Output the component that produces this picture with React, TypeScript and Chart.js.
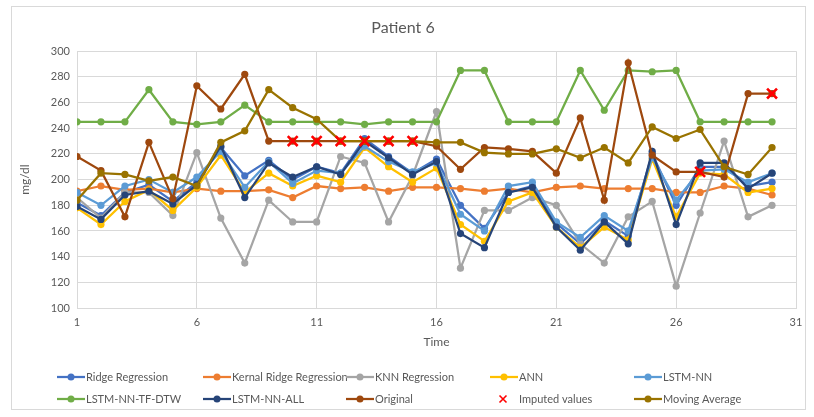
import React, { useEffect, useRef } from "react";
import { Chart, registerables } from "chart.js";

Chart.register(...registerables);

// Time steps (x axis) and the ticks shown along it
const TIME = [1, 2, 3, 4, 5, 6, 7, 8, 9, 10, 11, 12, 13, 14, 15, 16, 17, 18, 19, 20, 21, 22, 23, 24, 25, 26, 27, 28, 29, 30];
const X_TICKS = [1, 6, 11, 16, 21, 26, 31];

// Glucose estimates (mg/dl) per method
const RIDGE = [182, 172, 190, 196, 183, 198, 225, 203, 215, 200, 210, 205, 232, 218, 205, 216, 180, 162, 190, 195, 166, 150, 168, 156, 220, 180, 210, 210, 195, 198];
const KERNAL_RIDGE = [191, 195, 192, 193, 190, 193, 191, 191, 192, 186, 195, 193, 194, 191, 194, 194, 193, 191, 193, 190, 194, 195, 193, 193, 193, 190, 190, 195, 193, 188];
const KNN = [186, 170, 190, 190, 172, 221, 170, 135, 184, 167, 167, 218, 213, 167, 203, 253, 131, 176, 176, 186, 180, 150, 135, 171, 183, 117, 174, 230, 171, 180];
const ANN = [178, 165, 183, 192, 176, 194, 219, 190, 205, 195, 203, 198, 225, 210, 198, 209, 165, 152, 183, 190, 163, 147, 163, 153, 216, 171, 205, 204, 190, 193];
const LSTM_NN = [190, 180, 195, 200, 190, 202, 222, 194, 214, 197, 207, 205, 226, 214, 206, 213, 173, 160, 195, 198, 167, 155, 172, 160, 217, 184, 207, 208, 198, 205];
const LSTM_TF_DTW = [245, 245, 245, 270, 245, 243, 245, 258, 245, 245, 245, 245, 243, 245, 245, 245, 285, 285, 245, 245, 245, 285, 254, 285, 284, 285, 245, 245, 245, 245];
const LSTM_ALL = [179, 169, 188, 191, 181, 196, 226, 186, 213, 202, 210, 204, 230, 217, 204, 214, 158, 147, 190, 194, 163, 145, 167, 150, 222, 165, 213, 213, 193, 205];
const ORIGINAL = [218, 207, 171, 229, 185, 273, 255, 282, 230, 230, 230, 230, 230, 230, 230, 226, 208, 225, 224, 222, 205, 248, 184, 291, 219, 206, 206, 202, 267, 267];
const MOVING_AVG = [184, 205, 204, 199, 202, 195, 229, 238, 270, 256, 247, 230, 230, 230, 230, 229, 229, 221, 220, 220, 224, 217, 225, 213, 241, 232, 239, 210, 204, 225];

// Readings that were filled in by imputation
const IMPUTED_TIME = [10, 11, 12, 13, 14, 15, 27, 30];
const IMPUTED = [230, 230, 230, 230, 230, 230, 206, 267];

const SERIES_NAMES = [
  "Ridge Regression",
  "Kernal Ridge Regression",
  "KNN Regression",
  "ANN",
  "LSTM-NN",
  "LSTM-NN-TF-DTW",
  "LSTM-NN-ALL",
  "Original",
  "Imputed values",
  "Moving Average",
];

const FONT = "Lato, 'Open Sans', sans-serif";
const TEXT = "#595959";
const GRID = "#D9D9D9";

const toPoints = (xs: number[], ys: number[]) => ys.map((y, i) => ({ x: xs[i], y }));

const lineSet = (label: string, values: number[], color: string) => ({
  label,
  data: toPoints(TIME, values),
  borderColor: color,
  backgroundColor: color,
  borderWidth: 2.25,
  pointRadius: 3.6,
  pointHoverRadius: 3.6,
  pointBorderWidth: 0,
  pointBackgroundColor: color,
  tension: 0,
});

// White page, the thin frame around the chart, and the two-row legend under it
const framePlugin = {
  id: "frameAndLegend",
  beforeDraw(chart: any) {
    const { ctx, width, height } = chart;
    ctx.save();
    ctx.fillStyle = "#FFFFFF";
    ctx.fillRect(0, 0, width, height);
    ctx.strokeStyle = GRID;
    ctx.lineWidth = 1;
    ctx.strokeRect(11.5, 6.5, 794, 403);
    ctx.restore();
  },
  afterDraw(chart: any) {
    const ctx = chart.ctx;
    const cols = [57, 203, 346, 490, 634];
    const rows = [377, 399];
    ctx.save();
    ctx.font = `11px ${FONT}`;
    ctx.textBaseline = "middle";
    ctx.textAlign = "left";
    chart.data.datasets.forEach((ds: any, i: number) => {
      const x = cols[i % 5];
      const y = rows[Math.floor(i / 5)];
      const color = ds.borderColor;
      if (ds.showLine === false) {
        const cx = x + 13;
        const r = 3.5;
        ctx.strokeStyle = color;
        ctx.lineWidth = 1.6;
        ctx.beginPath();
        ctx.moveTo(cx - r, y - r);
        ctx.lineTo(cx + r, y + r);
        ctx.moveTo(cx + r, y - r);
        ctx.lineTo(cx - r, y + r);
        ctx.stroke();
      } else {
        ctx.strokeStyle = color;
        ctx.lineWidth = 2.25;
        ctx.beginPath();
        ctx.moveTo(x, y);
        ctx.lineTo(x + 28, y);
        ctx.stroke();
        ctx.fillStyle = color;
        ctx.beginPath();
        ctx.arc(x + 14, y, 3.5, 0, Math.PI * 2);
        ctx.fill();
      }
      ctx.fillStyle = TEXT;
      ctx.fillText(ds.label, x + 29, y);
    });
    ctx.restore();
  },
};

export default function App() {
  const canvasRef = useRef<HTMLCanvasElement | null>(null);

  useEffect(() => {
    document.body.style.margin = "0";
    const canvas = canvasRef.current;
    if (!canvas) return;

    const datasets: any[] = [
      lineSet(SERIES_NAMES[0], RIDGE, "#4472C4"),
      lineSet(SERIES_NAMES[1], KERNAL_RIDGE, "#ED7D31"),
      lineSet(SERIES_NAMES[2], KNN, "#A5A5A5"),
      lineSet(SERIES_NAMES[3], ANN, "#FFC000"),
      lineSet(SERIES_NAMES[4], LSTM_NN, "#5B9BD5"),
      lineSet(SERIES_NAMES[5], LSTM_TF_DTW, "#70AD47"),
      lineSet(SERIES_NAMES[6], LSTM_ALL, "#264478"),
      lineSet(SERIES_NAMES[7], ORIGINAL, "#9E480E"),
      {
        label: SERIES_NAMES[8],
        data: toPoints(IMPUTED_TIME, IMPUTED),
        showLine: false,
        borderColor: "#FF0000",
        backgroundColor: "#FF0000",
        pointStyle: "crossRot",
        pointRadius: 7,
        pointHoverRadius: 7,
        pointBorderWidth: 2.6,
      },
      lineSet(SERIES_NAMES[9], MOVING_AVG, "#997300"),
    ];
    // later series paint over earlier ones
    datasets.forEach((ds, i) => (ds.order = datasets.length - i));
    // imputed crosses sit above every line
    datasets[8].order = 0;

    const chart = new Chart(canvas, {
      type: "line",
      data: { datasets },
      plugins: [framePlugin],
      options: {
        responsive: false,
        animation: false,
        layout: { padding: { left: 10, right: 18, top: 8, bottom: 65 } },
        plugins: {
          legend: { display: false },
          tooltip: { enabled: false },
          title: {
            display: true,
            text: "Patient 6",
            color: TEXT,
            font: { family: FONT, size: 16, weight: "normal" },
            padding: { top: 10, bottom: 14 },
          },
        },
        scales: {
          x: {
            type: "linear",
            min: 1,
            max: 31,
            afterBuildTicks: (scale: any) => {
              scale.ticks = X_TICKS.map((v) => ({ value: v }));
            },
            afterFit: (scale: any) => {
              scale.height = 44;
            },
            grid: { color: GRID, lineWidth: 1, drawTicks: false },
            border: { color: GRID, width: 1 },
            ticks: {
              color: TEXT,
              font: { family: FONT, size: 11 },
              padding: 8,
              maxRotation: 0,
              autoSkip: false,
            },
            title: {
              display: true,
              text: "Time",
              color: TEXT,
              font: { family: FONT, size: 12 },
              padding: { top: 0, bottom: 3 },
            },
          },
          y: {
            min: 100,
            max: 300,
            afterFit: (scale: any) => {
              scale.width = 67;
            },
            grid: { color: GRID, lineWidth: 1, drawTicks: false },
            border: { display: false },
            ticks: {
              stepSize: 20,
              color: TEXT,
              font: { family: FONT, size: 11 },
              padding: 7,
            },
            title: {
              display: true,
              text: "mg/dl",
              color: TEXT,
              font: { family: FONT, size: 12 },
              padding: { top: 8, bottom: 0 },
            },
          },
        },
      },
    });

    return () => chart.destroy();
  }, []);

  return (
    <div style={{ width: 814, height: 417 }}>
      <canvas ref={canvasRef} width={814} height={417} style={{ display: "block" }} />
    </div>
  );
}
